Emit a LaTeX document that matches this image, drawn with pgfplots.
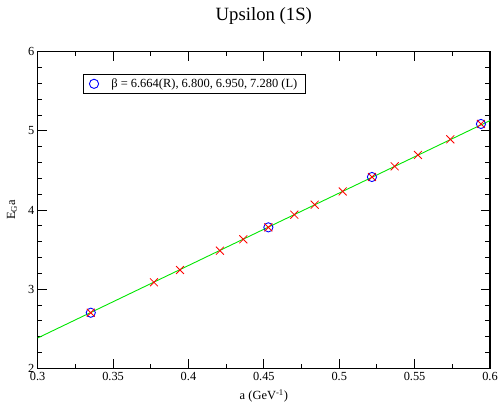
\documentclass[border=0pt]{standalone}
\usepackage{fontspec}
\setmainfont{Liberation Serif}
\usepackage{pgfplots}
\pgfplotsset{compat=1.18}

\begin{document}
\begin{tikzpicture}
\path[use as bounding box] (-37.7bp,-33.7bp) rectangle (462.3bp,368.3bp);
\begin{axis}[
  at={(0,0)}, anchor=origin,
  scale only axis,
  width=452.3bp, height=316.6bp,
  xmin=0.3, xmax=0.6, ymin=2, ymax=6,
  xtick={0.3,0.35,...,0.6}, ytick={2,3,4,5,6},
  minor x tick num=1, minor y tick num=4,
  tick align=inside,
  major tick length=9bp, minor tick length=4.5bp,
  axis line style={line width=1.4pt},
  every tick/.style={black, line width=0.9pt},
  /pgf/number format/assume math mode=true,
  tick label style={font=\fontsize{12.4}{14}\selectfont},
  title={Upsilon (1S)},
  title style={font=\fontsize{18.8}{22}\selectfont, anchor=base, at={(axis description cs:0.5,1)}, yshift=25bp},
  xlabel={a (GeV\textsuperscript{-1})},
  xlabel style={font=\fontsize{12.5}{15}\selectfont, at={(axis description cs:0.5,0)}, anchor=center, yshift=-27.5bp},
  ylabel={E\textsubscript{G}a},
  ylabel style={font=\fontsize{12.5}{15}\selectfont, at={(axis description cs:-0.0568,0.5)}, anchor=center},
  legend style={at={(axis description cs:0.1002,0.9286)}, anchor=north west,
    draw=black, line width=0.8pt, inner xsep=4bp, inner ysep=2bp,
    font=\fontsize{12.5}{15}\selectfont,
    nodes={inner xsep=4bp}},
  legend cell align=left,
]
% linear fit through the points
\addplot[color={rgb,255:red,0;green,230;blue,0}, line width=0.9pt, forget plot] coordinates {(0.3,2.383) (0.6,5.130)};
% ensemble results
\addplot[only marks, mark=o, mark size=4.6bp, color=blue, mark options={line width=0.9pt},
  legend image code/.code={\path[draw=none] (0bp,0bp) -- (19.9bp,0bp); \draw[only marks] plot coordinates {(6.6bp,0bp)};}]
  coordinates {(0.3352,2.702) (0.4530,3.781) (0.5217,4.417) (0.5940,5.087)};
\addlegendentry{β = 6.664(R), 6.800, 6.950, 7.280 (L)}
% interpolated values
\addplot[only marks, mark=x, mark size=5.6bp, color=red, mark options={line width=0.8pt}, forget plot] coordinates {
  (0.3352,2.702) (0.3771,3.087) (0.3944,3.242) (0.4209,3.486) (0.4364,3.630)
  (0.4530,3.781) (0.4702,3.941) (0.4837,4.067) (0.5023,4.234) (0.5217,4.417)
  (0.5368,4.552) (0.5522,4.695) (0.5737,4.893) (0.5940,5.087)};
\end{axis}
\end{tikzpicture}
\end{document}
